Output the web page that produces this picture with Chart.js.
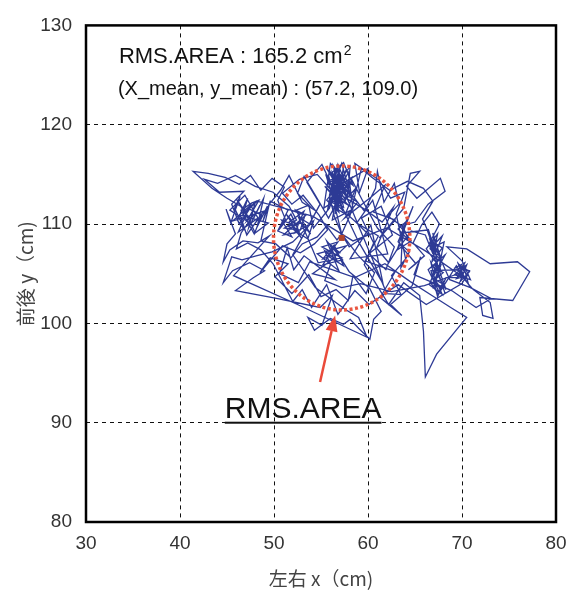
<!DOCTYPE html>
<html>
<head>
<meta charset="utf-8">
<script src="https://cdn.jsdelivr.net/npm/chart.js@4.4.1/dist/chart.umd.min.js"></script>
<style>
  html, body { margin: 0; padding: 0; background: #fff; }
  #wrap { width: 580px; height: 592px; }
</style>
</head>
<body>
<div id="wrap"><canvas id="swayChart" width="580" height="592"></canvas></div>
<script>
// axes
const xRange = [30, 80];
const yRange = [80, 130];

// centre of pressure trace (cm)
const swayX = [
  57.2, 56.4, 55.9, 56.6, 56.1, 55.5, 56.9, 57.4, 56.7, 57.8, 56.3, 55.7, 57.1, 58.2, 56.8, 56.0, 57.6, 58.7, 57.3, 55.4,
  56.5, 57.9, 58.4, 56.2, 57.0, 55.8, 58.9, 57.5,
  60.3, 61.8, 60.6, 62.9, 61.2, 63.8, 64.5, 65.5, 64.1, 65.2, 67.7, 68.2, 66.4, 65.0, 63.4, 64.6, 63.1, 64.2, 63.6,
  66.3, 67.1, 66.6, 67.8, 66.9, 67.5, 66.8, 68.1, 67.2, 66.7, 68.3, 67.4, 66.5, 67.9, 67.0, 68.2, 66.4, 67.6,
  69.4, 70.2, 69.6, 70.8, 69.8, 70.5, 69.2, 70.9, 70.0, 68.4, 70.5, 73.0, 75.9, 77.2, 75.4, 71.9, 72.2, 73.3, 73.0, 71.2, 69.9,
  66.1, 62.0, 58.4, 54.1, 51.0, 48.2,
  47.0, 46.0, 47.6, 45.3, 46.9, 48.3, 46.2, 47.5, 45.6, 48.9, 47.1, 46.4, 49.4, 48.0, 46.8,
  45.0, 43.4, 41.4, 43.0, 44.8, 46.3, 47.5, 48.6, 49.8, 51.1, 50.4,
  51.2, 50.5, 51.8, 52.7, 51.0, 53.4, 52.3, 53.9, 52.9, 51.5, 53.6, 54.2, 52.0,
  49.8, 48.1, 46.6, 45.5, 44.6, 45.6, 47.4, 49.0, 47.8, 45.9, 50.4, 54.9, 56.2, 55.1, 53.6, 54.3, 56.0, 57.4, 58.1, 59.1,
  60.2, 60.6, 61.4, 60.2,
  58.0, 56.4, 55.2, 57.3, 55.6, 56.9, 54.6, 57.7, 55.9, 54.1, 56.5, 53.2, 52.1, 51.4, 50.6, 52.6, 53.8,
  58.6, 61.8, 64.5, 66.8, 68.8, 70.5, 69.8, 67.3, 66.1, 65.9, 65.5, 63.8, 62.2, 61.1, 59.6,
  60.6, 59.3, 61.4, 62.6, 60.1, 61.9, 62.8, 61.0, 59.4, 58.2, 60.0, 59.1, 58.6, 61.2, 62.4, 63.9, 63.0, 64.0, 62.5, 63.5, 62.0,
  57.6, 56.2, 56.9, 55.6, 57.4, 56.0, 55.3, 57.0, 55.8, 54.4, 53.2, 52.5, 54.0, 53.0, 51.6, 50.7,
  49.5, 48.6, 50.2, 51.8, 53.0, 54.6, 55.6, 56.7, 57.2,
  56.6, 56.2, 56.9, 56.4, 57.1, 56.7, 57.5, 56.1, 56.8, 55.9, 57.3, 56.5, 57.0, 56.3, 57.7, 56.9, 55.8, 57.4, 56.6, 58.0,
  57.2, 56.0, 57.9, 56.4, 58.3, 57.6, 55.6, 56.8, 58.5,
  59.6, 60.8, 61.0, 61.7, 62.8, 63.3, 62.1, 63.9, 64.8, 63.2, 64.4, 63.5,
  63.7, 64.3, 63.2, 64.0, 63.6, 64.6, 66.1, 66.9, 66.4, 67.3, 66.6, 67.9, 66.8, 67.4, 66.2, 67.7,
  67.0, 67.8, 66.9, 67.5, 68.2, 67.2, 66.8, 67.9, 67.4, 66.7,
  69.5, 70.4, 69.7, 70.6, 69.4, 70.2, 70.7, 69.9,
  66.0, 62.5, 59.2, 57.2, 55.4,
  56.0, 55.4, 56.7, 55.9, 57.0, 55.2, 56.4, 57.4, 55.7, 56.8, 55.1, 57.2, 54.7,
  53.5, 52.6, 53.8, 52.2, 53.2, 51.6, 52.9, 51.3, 52.4, 50.8, 51.9, 50.4, 51.5,
  49.6, 48.8, 49.3, 48.2, 48.9, 47.8, 48.5, 47.3, 48.0, 46.7, 47.2, 46.1, 46.9, 45.8, 46.4, 45.4, 44.9, 45.9,
  45.0, 44.6, 45.3, 46.7, 48.3, 49.5,
  45.7, 52.5, 59.9, 59.0, 57.6,
  54.4, 52.0, 54.9, 53.5, 55.1, 59.0, 61.6, 60.3, 58.1, 62.1, 60.5, 58.8, 61.1, 59.7, 62.9, 61.3, 63.6, 62.4, 64.7, 65.6, 64.9,
  68.9, 71.5, 73.1, 70.9, 68.7,
  65.8, 66.9, 65.9, 64.2, 62.3, 60.4, 59.3, 58.1, 57.2,
  58.9, 60.7, 59.8, 58.4, 57.9, 56.6, 55.0, 53.7, 51.9, 50.1, 51.5, 49.6, 48.5, 50.9, 52.8, 54.3, 55.7, 54.8, 53.1, 51.9,
  50.9, 52.7, 54.6, 55.9, 59.8, 61.5, 62.7, 60.9, 62.2, 63.4, 65.1, 64.3, 66.0, 64.8, 65.7, 66.8, 67.6, 66.5, 67.2,
  67.9, 66.6, 67.6, 66.9, 68.0, 67.1, 67.7, 66.6, 67.5, 68.3,
  69.6, 70.3, 69.3, 70.8, 70.0,
  66.2, 63.2, 60.1, 58.6, 56.8, 55.6, 54.0, 53.0, 52.0,
  49.9, 48.6, 47.2, 46.0, 46.5,
  47.9, 47.1, 48.4, 47.6, 46.5, 47.9, 48.7, 47.4, 46.3, 45.5, 46.8,
  44.2, 42.6, 44.0, 45.9, 48.0, 49.9,
  51.6, 52.4, 51.1, 52.8, 53.3, 52.1, 53.7, 54.2,
  55.9, 56.5, 57.3, 56.3, 57.6, 56.0, 57.0, 58.1, 57.8, 56.9, 58.4, 57.4, 55.8, 56.6,
  58.7, 60.0, 58.0, 57.2
];
const swayY = [
  109.0, 110.8, 112.9, 115.6, 113.2, 115.0, 112.4, 115.8, 111.6, 114.2, 114.6, 111.4, 113.9, 112.8, 116.0, 111.9, 111.0, 113.6, 112.1, 113.8,
  112.6, 115.2, 111.5, 110.4, 114.8, 114.1, 112.2, 110.6,
  112.7, 113.9, 111.2, 110.4, 108.6, 111.6, 115.1, 115.3, 113.8, 112.6, 114.6, 113.3, 112.0, 110.2, 109.8, 108.3, 107.4, 110.6, 109.1,
  109.4, 107.2, 108.8, 106.4, 109.1, 105.2, 107.6, 108.2, 104.0, 106.1, 103.4, 105.8, 103.9, 102.9, 104.8, 106.9, 105.4, 103.1,
  105.8, 104.6, 106.0, 105.2, 104.2, 105.9, 104.9, 104.4, 106.3, 107.7, 107.5, 106.0, 106.2, 105.2, 102.3, 102.6, 100.8, 100.5, 102.1, 103.4, 104.8,
  107.3, 109.6, 108.3, 110.8, 111.6, 112.3,
  111.2, 112.5, 110.0, 111.4, 112.9, 110.6, 109.2, 111.9, 110.3, 111.3, 108.9, 110.9, 110.1, 109.1, 111.6,
  112.6, 113.6, 115.3, 115.1, 114.7, 114.0, 114.9, 113.4, 114.6, 113.7, 112.4,
  110.5, 109.4, 111.0, 109.2, 108.9, 110.9, 111.4, 109.0, 110.1, 109.8, 108.5, 110.3, 108.2,
  107.2, 106.8, 106.4, 106.7, 104.1, 105.3, 106.1, 105.3, 104.6, 103.3, 102.5, 101.6, 102.8, 99.8, 100.6, 99.3, 100.5, 99.9, 100.4, 99.4,
  98.4, 100.4, 101.2, 103.5,
  105.2, 107.6, 105.9, 106.4, 108.3, 105.3, 107.0, 107.8, 106.2, 105.0, 104.4, 106.8, 105.4, 107.6, 105.0, 104.1, 106.2,
  104.6, 106.0, 104.2, 102.8, 101.6, 100.6, 99.8, 96.9, 94.6, 99.2, 102.8, 104.1, 101.9, 103.6, 105.9,
  108.1, 110.6, 111.8, 108.9, 107.0, 105.4, 107.7, 109.6, 112.4, 114.6, 115.6, 113.2, 116.1, 114.4, 112.6, 113.2, 111.0, 106.5, 104.8, 102.9, 103.0,
  113.0, 115.2, 111.2, 112.4, 114.6, 116.1, 111.6, 112.7, 110.6, 112.9, 114.8, 113.1, 111.6, 112.2, 114.9, 113.4,
  112.0, 108.3, 108.0, 106.6, 108.0, 108.7, 109.8, 108.4, 109.0,
  111.3, 114.0, 111.8, 115.4, 112.5, 116.0, 113.0, 115.1, 112.0, 114.4, 114.9, 111.0, 115.7, 112.8, 115.5, 113.6, 112.3, 111.7, 114.8, 113.4,
  116.1, 113.0, 111.9, 113.5, 114.7, 112.4, 115.6, 114.3, 112.7,
  111.3, 113.6, 115.3, 112.2, 114.1, 112.0, 110.8, 109.6, 111.8, 108.2, 107.2, 105.6,
  109.8, 108.4, 109.5, 110.2, 108.0, 109.3, 108.9, 107.0, 109.5, 106.8, 108.4, 107.6, 106.2, 109.0, 107.5, 105.5,
  104.2, 106.0, 103.5, 105.0, 103.0, 105.9, 104.6, 104.0, 102.7, 105.3,
  105.4, 104.3, 105.9, 104.8, 104.5, 105.7, 103.9, 105.1,
  103.8, 103.2, 104.0, 103.6, 104.3,
  105.9, 107.3, 106.3, 108.0, 107.1, 106.5, 107.9, 105.8, 106.8, 108.2, 107.7, 106.6, 106.1,
  108.8, 110.7, 110.0, 109.1, 111.3, 110.2, 108.6, 111.0, 109.8, 110.4, 108.7, 109.3, 111.4,
  112.3, 110.2, 111.8, 109.7, 112.6, 110.5, 111.9, 109.6, 112.2, 111.0, 112.6, 110.4, 109.4, 111.6, 112.8, 110.1, 111.5, 109.0,
  108.0, 106.2, 107.4, 108.3, 108.1, 108.8,
  104.8, 101.9, 98.6, 100.6, 101.4,
  103.6, 106.9, 112.0, 114.2, 116.0, 108.2, 104.0, 109.9, 106.5, 107.0, 112.4, 110.1, 108.8, 106.3, 105.2, 102.6, 100.8, 101.9, 103.8, 106.7, 104.9,
  103.3, 101.6, 102.5, 103.6, 104.4,
  110.5, 112.3, 113.6, 114.3, 113.4, 114.7, 115.6, 110.9, 109.0,
  106.9, 105.1, 103.0, 104.8, 102.3, 103.4, 102.7, 104.9, 103.0, 104.7, 106.0, 106.6, 105.1, 107.8, 107.1, 108.0, 109.4, 110.9, 112.9, 112.0,
  113.1, 114.5, 115.0, 113.6, 111.4, 110.2, 111.7, 107.6, 106.1, 107.9, 106.0, 105.4, 106.8, 108.1, 109.9, 111.2, 110.0, 108.0, 107.1,
  108.8, 107.5, 106.5, 105.7, 105.1, 104.4, 103.6, 104.2, 102.9, 104.6,
  104.6, 106.1, 105.6, 105.3, 104.0,
  101.9, 103.9, 101.9, 103.3, 100.9, 103.9, 101.6, 103.4, 102.2,
  106.0, 107.4, 108.1, 107.5, 109.1,
  111.0, 110.3, 112.4, 112.1, 111.4, 109.0, 110.9, 111.5, 110.0, 112.0, 113.3,
  113.2, 114.5, 114.1, 114.9, 113.8, 113.2,
  111.8, 110.4, 109.6, 109.4, 110.9, 111.3, 111.9, 109.6,
  111.6, 113.6, 111.3, 115.9, 114.1, 112.2, 114.4, 115.8, 112.6, 115.1, 113.9, 116.2, 114.9, 112.0,
  110.2, 109.0, 107.7, 109.0
];

// RMS area circle (centre as drawn in the picture)
const meanX = 57.2;
const meanY = 108.6;
const rmsArea = 165.2;
const rmsRadius = Math.sqrt(rmsArea / Math.PI);

const infoLine1 = "RMS.AREA : 165.2 cm";
const infoLine2 = "(X_mean, y_mean) : (57.2, 109.0)";
const arrowLabel = "RMS.AREA";
const arrowFrom = [54.9, 94.1];
const arrowTo = [56.5, 100.8];

const points = swayX.map((v, i) => ({ x: v, y: swayY[i] }));

const overlay = {
  id: "overlay",
  afterDatasetsDraw(chart) {
    const { ctx, chartArea: a, scales: { x, y } } = chart;
    ctx.save();

    // circle
    const cx = x.getPixelForValue(meanX);
    const cy = y.getPixelForValue(meanY);
    const rx = x.getPixelForValue(meanX + rmsRadius) - cx;
    const ry = cy - y.getPixelForValue(meanY + rmsRadius);
    ctx.strokeStyle = "#e9553f";
    ctx.lineWidth = 3.5;
    ctx.setLineDash([3, 2.5]);
    ctx.beginPath();
    ctx.ellipse(cx, cy, rx, ry, 0, 0, Math.PI * 2);
    ctx.stroke();
    ctx.setLineDash([]);

    ctx.fillStyle = "#b3472c";
    ctx.fillRect(cx - 3, cy - 3, 6, 6);

    // arrow
    const ax0 = x.getPixelForValue(arrowFrom[0]), ay0 = y.getPixelForValue(arrowFrom[1]);
    const ax1 = x.getPixelForValue(arrowTo[0]), ay1 = y.getPixelForValue(arrowTo[1]);
    const ang = Math.atan2(ay1 - ay0, ax1 - ax0);
    const headLen = 16, headW = 6;
    const bx = ax1 - headLen * Math.cos(ang), by = ay1 - headLen * Math.sin(ang);
    ctx.strokeStyle = "#ea4a3a";
    ctx.lineWidth = 2.5;
    ctx.beginPath();
    ctx.moveTo(ax0, ay0);
    ctx.lineTo(bx, by);
    ctx.stroke();
    ctx.fillStyle = "#ea4a3a";
    ctx.beginPath();
    ctx.moveTo(ax1, ay1);
    ctx.lineTo(bx + headW * Math.sin(ang), by - headW * Math.cos(ang));
    ctx.lineTo(bx - headW * Math.sin(ang), by + headW * Math.cos(ang));
    ctx.closePath();
    ctx.fill();

    // label under the arrow
    ctx.fillStyle = "#111";
    ctx.font = "30px 'Liberation Sans', Arial, sans-serif";
    ctx.textAlign = "center";
    ctx.textBaseline = "alphabetic";
    const lx = x.getPixelForValue(53.1), ly = y.getPixelForValue(90.5);
    ctx.fillText(arrowLabel, lx, ly);
    const lw = ctx.measureText(arrowLabel).width;
    ctx.fillRect(lx - lw / 2, ly + 4, lw, 2);

    // info text
    ctx.textAlign = "left";
    ctx.font = "22px 'Liberation Sans', Arial, sans-serif";
    const t1x = x.getPixelForValue(33.5), t1y = y.getPixelForValue(126.2);
    ctx.fillText(infoLine1, t1x, t1y);
    const w1 = ctx.measureText(infoLine1).width;
    ctx.font = "14px 'Liberation Sans', Arial, sans-serif";
    ctx.fillText("2", t1x + w1 + 1, t1y - 8);
    ctx.font = "20px 'Liberation Sans', Arial, sans-serif";
    ctx.fillText(infoLine2, x.getPixelForValue(33.4), y.getPixelForValue(123.0));

    // frame
    ctx.strokeStyle = "#000";
    ctx.lineWidth = 2.5;
    ctx.strokeRect(a.left, a.top, a.right - a.left, a.bottom - a.top);
    ctx.restore();
  }
};

const tickFont = { family: "'Liberation Sans', Arial, sans-serif", size: 19 };
const titleFont = { family: "'Noto Sans CJK JP', sans-serif", size: 19 };

new Chart(document.getElementById("swayChart"), {
  type: "scatter",
  data: {
    datasets: [{
      data: points,
      showLine: true,
      borderColor: "#2d3a95",
      borderWidth: 1.3,
      pointRadius: 0,
      tension: 0,
    }],
  },
  options: {
    responsive: false,
    animation: false,
    layout: { padding: { top: 13, right: 24, left: 0, bottom: 0 } },
    plugins: { legend: { display: false }, tooltip: { enabled: false } },
    scales: {
      x: {
        type: "linear",
        min: xRange[0],
        max: xRange[1],
        afterFit: (s) => { s.height = 70; },
        ticks: { stepSize: 10, font: tickFont, color: "#333", padding: 10 },
        grid: { color: "#111", lineWidth: 1, drawTicks: false },
        border: { display: false, dash: [4, 4] },
        title: { display: true, text: "左右 x（cm)", font: titleFont, color: "#444", padding: { top: 0, bottom: 2 } },
      },
      y: {
        type: "linear",
        min: yRange[0],
        max: yRange[1],
        afterFit: (s) => { s.width = 86; },
        ticks: { stepSize: 10, font: tickFont, color: "#333", padding: 14 },
        grid: { color: "#111", lineWidth: 1, drawTicks: false },
        border: { display: false, dash: [4, 4] },
        title: { display: true, text: "前後 y（cm)", font: titleFont, color: "#444", padding: { top: 14, bottom: 0 } },
      },
    },
  },
  plugins: [overlay],
});
</script>
</body>
</html>
